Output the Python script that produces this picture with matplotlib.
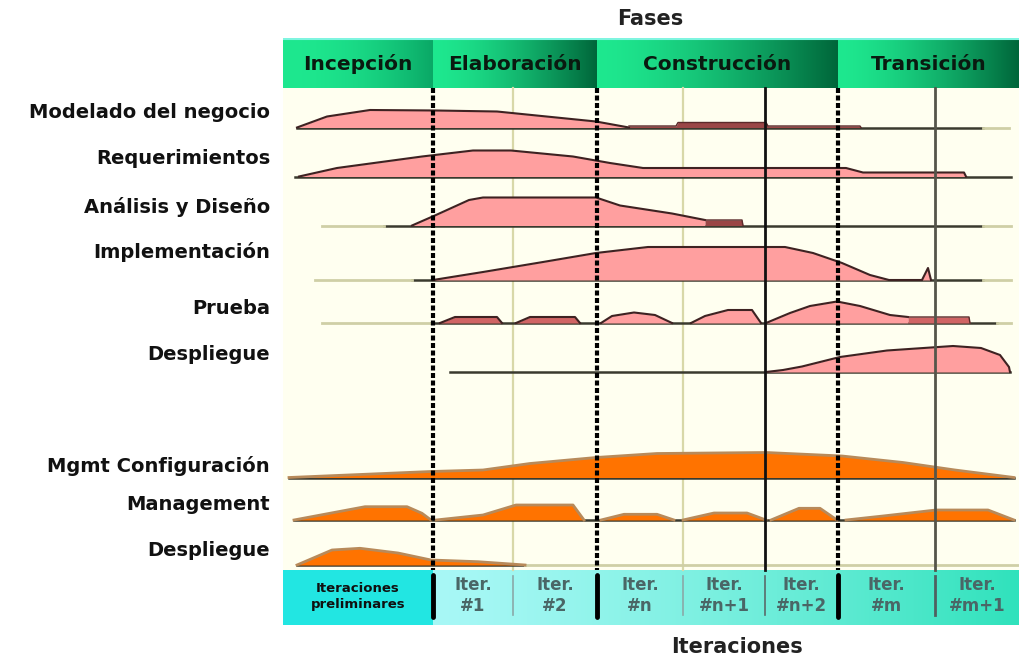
import numpy as np
import matplotlib
matplotlib.use('Agg')
import matplotlib.pyplot as plt
from matplotlib.colors import to_rgb

# ---------------- data ----------------
phases = ["Incepción", "Elaboración", "Construcción", "Transición"]
phase_edges = [0, 150, 314, 555, 736]

iter_labels = ["Iteraciones\npreliminares", "Iter.\n#1", "Iter.\n#2", "Iter.\n#n",
               "Iter.\n#n+1", "Iter.\n#n+2", "Iter.\n#m", "Iter.\n#m+1"]
iter_edges = [0, 150, 230, 314, 400, 482, 555, 652, 736]

row_labels = ["Modelado del negocio", "Requerimientos", "Análisis y Diseño",
              "Implementación", "Prueba", "Despliegue",
              "Mgmt Configuración", "Management", "Despliegue"]
row_base = [89.5, 138.5, 187.5, 242, 285, 334, 439.5, 482, 527]

# baseline extents per row (dark part) and light extensions
dark_start = [14, 12, 101, 129, 148, 167, 6, 11, 14]
dark_end = [700, 728, 700, 700, 714, 727, 731, 731, 242]
light_start = [700, None, 39, 32, 39, None, None, None, 242]
light_end = [726, None, 101, 129, 148, None, None, None, 736]
light_start2 = [None, None, 700, 700, 714, None, None, None, None]
light_end2 = [None, None, 728, 728, 728, None, None, None, None]

# effort profiles (time, effort)
modelado_x = [14, 44, 87, 153, 214, 313, 346]
modelado_h = [0, 11, 17.5, 17, 16, 6, 0]
modelado_tail_x = [346, 393, 395, 483, 485, 577, 578]
modelado_tail_h = [1.5, 1.5, 5, 5, 1.5, 1.5, 0]

req_x = [16, 54, 139, 190, 228, 290, 327, 360, 563, 580, 681, 683]
req_h = [0, 8.5, 20, 26, 26, 20, 13.5, 8.5, 8.5, 4, 4, 0]

anal_x = [129, 153, 186, 200, 313, 337, 389, 422]
anal_h = [0, 10.5, 25.5, 28, 28, 20, 12, 5.5]
anal_tail_x = [422, 459, 460]
anal_tail_h = [5.5, 5.5, 0]

impl_x = [150, 200, 260, 313, 365, 502, 530, 559, 587, 606, 639, 645, 648]
impl_h = [0, 8, 18, 27, 33, 33, 27, 17, 5, 0, 0, 12, 0]

prueba1_x = [157, 172, 214, 219]
prueba1_h = [0, 6, 6, 0]
prueba2_x = [233, 247, 292, 297]
prueba2_h = [0, 6, 6, 0]
prueba3_x = [318, 329, 351, 372, 389]
prueba3_h = [0, 7, 10.5, 8, 0]
prueba4_x = [408, 422, 445, 469, 478]
prueba4_h = [0, 7, 13, 13, 0]
prueba5_x = [483, 507, 527, 554, 577, 607, 625]
prueba5_h = [0, 10, 17, 21.5, 17, 8, 6]
prueba_tail_x = [625, 686, 687]
prueba_tail_h = [6, 6, 0]

desp_x = [483, 500, 519, 557, 604, 670, 698, 717, 726, 727]
desp_h = [0, 2, 5.5, 15, 21.5, 26, 24, 17, 5, 0]

config_x = [6, 148, 200, 247, 313, 374, 483, 559, 620, 672, 731]
config_h = [0, 6, 7.5, 14, 20, 24, 25, 21.5, 15, 7.5, 0]

mgmt1_x = [11, 82, 124, 139, 148]
mgmt1_h = [0, 13.3, 13.3, 6.7, 0]
mgmt2_x = [153, 200, 233, 290, 301]
mgmt2_h = [0, 5, 15, 15, 0]
mgmt3_x = [318, 341, 374, 391]
mgmt3_h = [0, 5.7, 5.7, 0]
mgmt4_x = [400, 431, 464, 483]
mgmt4_h = [0, 7, 7, 0]
mgmt5_x = [488, 516, 537, 554]
mgmt5_h = [0, 11.7, 11.7, 0]
mgmt6_x = [563, 600, 653, 705, 731]
mgmt6_h = [0, 4, 10, 10, 0]

desp2_x = [14, 49, 77, 115, 148, 195, 242]
desp2_h = [0, 15, 16.7, 12, 5, 3.3, 0]

# ---------------- styles ----------------
PINK = '#ff9f9f'
PINK_DARK = '#d06464'
EDGE = '#3e2222'
ORANGE = '#ff7300'
ORANGE_EDGE = '#b88a5a'
CREAM = '#fffff0'
LINE_DARK = '#3a3a2e'
LINE_LIGHT = '#cfcfa6'
GREEN_BRIGHT = '#1ee88f'
GREEN_DARK = '#00663a'

W, H = 1019, 659
fig = plt.figure(figsize=(W / 100, H / 100), dpi=100)
fig.patch.set_facecolor('white')

ax = fig.add_axes([283 / W, (H - 625) / H, 736 / W, 587 / H])
ax.set_xlim(0, 736)
ax.set_ylim(587, 0)
ax.axis('off')

HEAD_TOP, HEAD_BOT = 0, 50
BODY_BOT = 532
BAR_TOP, BAR_BOT = 532, 587

# cream body
ax.add_patch(plt.Rectangle((0, HEAD_BOT), 736, BODY_BOT - HEAD_BOT,
                           facecolor=CREAM, edgecolor='none', zorder=0))


def gradient(c0, c1, n=200, gamma=1.0):
    t = np.linspace(0, 1, n) ** gamma
    a, b = np.array(to_rgb(c0)), np.array(to_rgb(c1))
    return (a[None, :] * (1 - t[:, None]) + b[None, :] * t[:, None])[None, :, :]


# phase header
for i, name in enumerate(phases):
    x0, x1 = phase_edges[i], phase_edges[i + 1]
    if i == 0:
        g = gradient(GREEN_BRIGHT, '#0aa866', gamma=2.0)
    else:
        g = gradient(GREEN_BRIGHT, GREEN_DARK, gamma=1.5)
    ax.imshow(g, extent=(x0, x1, HEAD_BOT, HEAD_TOP), aspect='auto',
              zorder=1, interpolation='bilinear')
    ax.text((x0 + x1) / 2, (HEAD_TOP + HEAD_BOT) / 2 + 1, name, ha='center',
            va='center', fontsize=14.5, fontweight='bold', color='#0a1a10', zorder=3)
ax.plot([0, 736], [HEAD_TOP + 0.5, HEAD_TOP + 0.5], color='#7ff5e0', lw=1.5, zorder=2)

# iteration bar
ax.add_patch(plt.Rectangle((iter_edges[0], BAR_TOP), iter_edges[1] - iter_edges[0],
                           BAR_BOT - BAR_TOP, facecolor='#22e6e2', edgecolor='none', zorder=1))
ax.imshow(gradient('#a8f8f6', '#30e2bc', gamma=1.3),
          extent=(iter_edges[1], iter_edges[-1], BAR_BOT, BAR_TOP),
          aspect='auto', zorder=1, interpolation='bilinear')
for i, lab in enumerate(iter_labels):
    xc = (iter_edges[i] + iter_edges[i + 1]) / 2
    if i == 0:
        ax.text(xc, (BAR_TOP + BAR_BOT) / 2 - 1, lab, ha='center', va='center',
                fontsize=9.5, fontweight='bold', color='#101010', linespacing=1.3, zorder=3)
    else:
        ax.text(xc, (BAR_TOP + BAR_BOT) / 2 - 2, lab, ha='center', va='center',
                fontsize=12, fontweight='bold', color='#4a6666', linespacing=1.15, zorder=3)

# vertical separators
phase_bounds = phase_edges[1:-1]
for e in iter_edges[1:-1]:
    if e in phase_bounds:
        ax.plot([e, e], [HEAD_BOT, BODY_BOT], color='black', lw=3,
                linestyle=(0, (1.2, 0.6)), zorder=6)
        ax.plot([e, e], [BAR_TOP + 5, BAR_BOT - 8], color='black', lw=3.5, zorder=6,
                solid_capstyle='round')
    elif e == iter_edges[5]:
        ax.plot([e, e], [HEAD_BOT, BODY_BOT], color='#111111', lw=2, zorder=6)
        ax.plot([e, e], [BAR_TOP + 6, BAR_BOT - 10], color='#5a6a6a', lw=1.2, zorder=6)
    elif e == iter_edges[7]:
        ax.plot([e, e], [HEAD_BOT, BODY_BOT], color='#55554a', lw=2, zorder=6)
        ax.plot([e, e], [BAR_TOP + 6, BAR_BOT - 10], color='#506060', lw=2, zorder=6)
    else:
        ax.plot([e, e], [HEAD_BOT, BODY_BOT], color='#d8d8a8', lw=1.6, zorder=1.5)
        ax.plot([e, e], [BAR_TOP + 6, BAR_BOT - 10], color='#8aa8a8', lw=1.2, zorder=6)

# baselines
for i, b in enumerate(row_base):
    ax.plot([dark_start[i], dark_end[i]], [b, b], color=LINE_DARK, lw=1.8, zorder=2)
    if light_start[i] is not None:
        ax.plot([light_start[i], light_end[i]], [b, b], color=LINE_LIGHT, lw=2, zorder=2)
    if light_start2[i] is not None:
        ax.plot([light_start2[i], light_end2[i]], [b, b], color=LINE_LIGHT, lw=2, zorder=2)


def hump(row, xs, hs, color, edge, lw=1.5):
    b = row_base[row]
    top = [b - h for h in hs]
    ax.fill_between(xs, [b] * len(xs), top, color=color, lw=0, zorder=3)
    ax.plot(xs, top, color=edge, lw=lw, zorder=4)


hump(0, modelado_x, modelado_h, PINK, EDGE)
hump(0, modelado_tail_x, modelado_tail_h, '#9a4646', '#5a2a2a', 1.0)
hump(1, req_x, req_h, PINK, EDGE)
hump(2, anal_x, anal_h, PINK, EDGE)
hump(2, anal_tail_x, anal_tail_h, '#9a4646', '#5a2a2a', 1.0)
hump(3, impl_x, impl_h, PINK, EDGE)
hump(4, prueba1_x, prueba1_h, PINK_DARK, EDGE)
hump(4, prueba2_x, prueba2_h, PINK_DARK, EDGE)
hump(4, prueba3_x, prueba3_h, PINK, EDGE)
hump(4, prueba4_x, prueba4_h, PINK, EDGE)
hump(4, prueba5_x, prueba5_h, PINK, EDGE)
hump(4, prueba_tail_x, prueba_tail_h, PINK_DARK, '#5a2a2a', 1.0)
hump(5, desp_x, desp_h, PINK, EDGE)
hump(6, config_x, config_h, ORANGE, ORANGE_EDGE, 2.0)
for xs, hs in [(mgmt1_x, mgmt1_h), (mgmt2_x, mgmt2_h), (mgmt3_x, mgmt3_h),
               (mgmt4_x, mgmt4_h), (mgmt5_x, mgmt5_h), (mgmt6_x, mgmt6_h)]:
    hump(7, xs, hs, ORANGE, ORANGE_EDGE, 2.0)
hump(8, desp2_x, desp2_h, ORANGE, ORANGE_EDGE, 2.0)

# row labels
label_dy = [14.5, 18.5, 18.5, 28, 15, 17, 11.5, 15, 14]
for i, lab in enumerate(row_labels):
    ax.text(-13, row_base[i] - label_dy[i], lab, ha='right', va='center',
            fontsize=14, fontweight='bold', color='#111111', clip_on=False, zorder=5)

fig.text(650 / W, 1 - 19 / H, 'Fases', ha='center', va='center', fontsize=15,
         fontweight='bold', color='#222222')
fig.text(737 / W, 1 - 647 / H, 'Iteraciones', ha='center', va='center', fontsize=15,
         fontweight='bold', color='#222222')

fig.savefig('out.png', dpi=100, facecolor='white')
